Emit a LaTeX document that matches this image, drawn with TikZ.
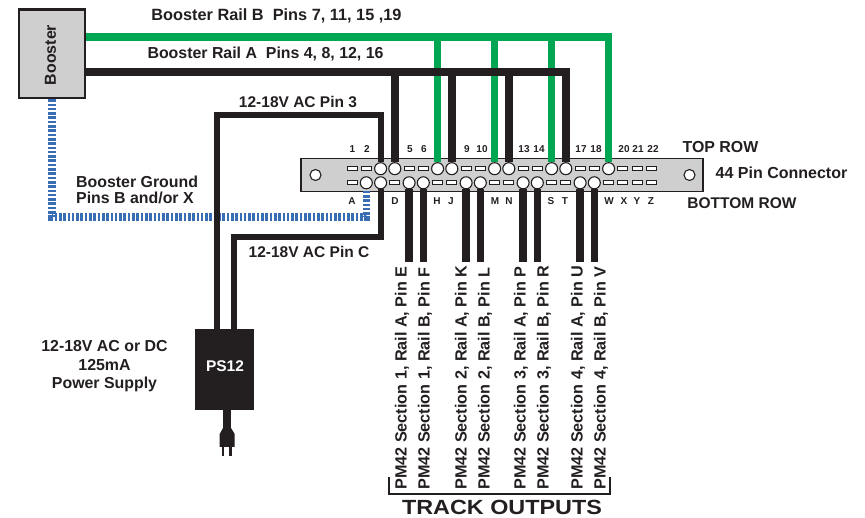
\documentclass[tikz,border=0pt]{standalone}
\usepackage{fontspec}
\setmainfont{Liberation Sans}
\newfontfamily\trackfont[FakeStretch=1.14]{Liberation Sans}
\usepackage{tikz}
\usetikzlibrary{positioning,calc}
\definecolor{railgreen}{RGB}{0,166,81}
\definecolor{wireblack}{RGB}{35,31,32}
\definecolor{groundblue}{RGB}{58,110,180}
\definecolor{panelgray}{RGB}{207,207,207}
\tikzset{
	lbl/.style={font=\bfseries\fontsize{15.9}{16}\selectfont,text=wireblack,inner sep=0pt,align=center},
	outlbl/.style={lbl,font=\bfseries\fontsize{16.2}{16}\selectfont,rotate=90,anchor=west},
	pinno/.style={font=\bfseries\fontsize{10}{12}\selectfont,text=wireblack,inner sep=0pt},
	slot/.style={draw=wireblack,fill=white,line width=0.9pt,minimum width=10pt,minimum height=3.8pt,inner sep=0pt},
	hole/.style={circle,draw=wireblack,fill=white,line width=1.1pt,minimum size=12pt,inner sep=0pt},
	railwire/.style={line width=7.5pt,color=wireblack},
	acwire/.style={line width=6pt,color=wireblack},
	greenwire/.style={line width=7.5pt,color=railgreen},
	groundwire/.style={line width=7.5pt,color=groundblue,dash pattern=on 2.6pt off 1.7pt}
}
\begin{document}
\begin{tikzpicture}[x=1pt,y=-1pt]
		\useasboundingbox (0,0) rectangle (865,518);

		\coordinate (railB) at (609,37);
		\coordinate (railA) at (566,72);
		\coordinate (acthree) at (217,115);
		\coordinate (acc) at (234,237);
		\coordinate (ground) at (52,217);
		\coordinate (wireend) at (409,262);

		\node[draw=wireblack,fill=panelgray,line width=2.4pt,minimum width=66pt,minimum height=88.5pt,inner sep=0pt] (booster) at (51.8,53.8) {};
		\node[lbl,rotate=90] (boosterlbl) at (50.5,55) {Booster};
		\node[draw=wireblack,fill=panelgray,line width=1.2pt,minimum width=402pt,minimum height=33pt,inner sep=0pt] (conn) at (502,175) {};
		\node[hole,minimum size=11pt] (holeL) at (315.5,175) {};
		\node[hole,minimum size=11pt] (holeR) at (689.5,175) {};
		\node[fill=wireblack,minimum width=59pt,minimum height=81pt,inner sep=0pt] (ps) at (224.5,369.5) {};
		\node[lbl,text=white,font=\bfseries\fontsize{15.5}{16}\selectfont] (pslbl) at (225,366) {PS12};

		% top row
		\node[slot] (t1) at (352,168.7) {};
		\node[slot] (t2) at (366.3,168.7) {};
		\node[hole] (t3) at (380.6,168.7) {};
		\node[hole] (t4) at (394.8,168.7) {};
		\node[slot] (t5) at (409.1,168.7) {};
		\node[slot] (t6) at (423.3,168.7) {};
		\node[hole] (t7) at (437.6,168.7) {};
		\node[hole] (t8) at (451.8,168.7) {};
		\node[slot] (t9) at (466.1,168.7) {};
		\node[slot] (t10) at (480.3,168.7) {};
		\node[hole] (t11) at (494.6,168.7) {};
		\node[hole] (t12) at (508.8,168.7) {};
		\node[slot] (t13) at (523.1,168.7) {};
		\node[slot] (t14) at (537.3,168.7) {};
		\node[hole] (t15) at (551.6,168.7) {};
		\node[hole] (t16) at (565.8,168.7) {};
		\node[slot] (t17) at (580.1,168.7) {};
		\node[slot] (t18) at (594.3,168.7) {};
		\node[hole] (t19) at (608.6,168.7) {};
		\node[slot] (t20) at (622.8,168.7) {};
		\node[slot] (t21) at (637.1,168.7) {};
		\node[slot] (t22) at (651.3,168.7) {};

		% bottom row
		\node[slot] (b1) at (352,182.8) {};
		\node[hole] (b2) at (366.3,182.8) {};
		\node[hole] (b3) at (380.6,182.8) {};
		\node[slot] (b4) at (394.8,182.8) {};
		\node[hole] (b5) at (409.1,182.8) {};
		\node[hole] (b6) at (423.3,182.8) {};
		\node[slot] (b7) at (437.6,182.8) {};
		\node[slot] (b8) at (451.8,182.8) {};
		\node[hole] (b9) at (466.1,182.8) {};
		\node[hole] (b10) at (480.3,182.8) {};
		\node[slot] (b11) at (494.6,182.8) {};
		\node[slot] (b12) at (508.8,182.8) {};
		\node[hole] (b13) at (523.1,182.8) {};
		\node[hole] (b14) at (537.3,182.8) {};
		\node[slot] (b15) at (551.6,182.8) {};
		\node[slot] (b16) at (565.8,182.8) {};
		\node[hole] (b17) at (580.1,182.8) {};
		\node[hole] (b18) at (594.3,182.8) {};
		\node[slot] (b19) at (608.6,182.8) {};
		\node[slot] (b20) at (622.8,182.8) {};
		\node[slot] (b21) at (637.1,182.8) {};
		\node[slot] (b22) at (651.3,182.8) {};

		% pin numbers
		\node[pinno] (n1) at (352.5,149.5) {1};
		\node[pinno] (n2) at (367,149.5) {2};
		\node[pinno] (n5) at (410,149.5) {5};
		\node[pinno] (n6) at (424,149.5) {6};
		\node[pinno] (n9) at (467,149.5) {9};
		\node[pinno] (n10) at (482,149.5) {10};
		\node[pinno] (n13) at (524,149.5) {13};
		\node[pinno] (n14) at (539,149.5) {14};
		\node[pinno] (n17) at (581,149.5) {17};
		\node[pinno] (n18) at (596,149.5) {18};
		\node[pinno] (n20) at (624,149.5) {20};
		\node[pinno] (n21) at (638,149.5) {21};
		\node[pinno] (n22) at (653,149.5) {22};
		\node[pinno] (lA) at (352,201) {A};
		\node[pinno] (lD) at (395,201) {D};
		\node[pinno] (lH) at (437,201) {H};
		\node[pinno] (lJ) at (451,201) {J};
		\node[pinno] (lM) at (495,201) {M};
		\node[pinno] (lN) at (509,201) {N};
		\node[pinno] (lS) at (551,201) {S};
		\node[pinno] (lT) at (565,201) {T};
		\node[pinno] (lW) at (609,201) {W};
		\node[pinno] (lX) at (624,201) {X};
		\node[pinno] (lY) at (637,201) {Y};
		\node[pinno] (lZ) at (651,201) {Z};

		% track output labels
		\node[outlbl] (s1a) at (402,490) {PM42 Section 1, Rail A, Pin E};
		\node[outlbl] (s1b) at (425,490) {PM42 Section 1, Rail B, Pin F};
		\node[outlbl] (s2a) at (462,490) {PM42 Section 2, Rail A, Pin K};
		\node[outlbl] (s2b) at (485,490) {PM42 Section 2, Rail B, Pin L};
		\node[outlbl] (s3a) at (521,490) {PM42 Section 3, Rail A, Pin P};
		\node[outlbl] (s3b) at (544,490) {PM42 Section 3, Rail B, Pin R};
		\node[outlbl] (s4a) at (578,490) {PM42 Section 4, Rail A, Pin U};
		\node[outlbl] (s4b) at (601,490) {PM42 Section 4, Rail B, Pin V};
		\node[lbl,font=\trackfont\bfseries\fontsize{20.5}{22}\selectfont] (tracklbl) at (502,507.5) {TRACK OUTPUTS};

		% other labels
		\node[lbl,font=\bfseries\fontsize{16.3}{16}\selectfont] (railBlbl) at (276.5,16) {Booster Rail B\ \ Pins 7, 11, 15 ,19};
		\node[lbl] (railAlbl) at (265.5,54) {Booster Rail A\ \ Pins 4, 8, 12, 16};
		\node[lbl,font=\bfseries\fontsize{15.5}{16}\selectfont] (ac3lbl) at (298,102) {12-18V AC Pin 3};
		\node[lbl,font=\bfseries\fontsize{15.5}{16}\selectfont] (acclbl) at (309,252) {12-18V AC Pin C};
		\node[lbl,align=left,anchor=west] (groundlbl) at (76,190) {Booster Ground\\Pins B and/or X};
		\node[lbl] (pwrlbl) at (104.5,366.5) {12-18V AC or DC\\[2.5pt]125mA\\[2.5pt]Power Supply};
		\node[lbl] (toplbl) at (720.5,147) {TOP ROW};
		\node[lbl,font=\bfseries\fontsize{16}{16}\selectfont] (conlbl) at (781.5,173) {44 Pin Connector};
		\node[lbl,font=\bfseries\fontsize{15.5}{16}\selectfont] (botlbl) at (742,203) {BOTTOM ROW};

		% booster ground
		\draw[groundwire] (booster.south -| ground) -- (ground) -- (ground -| b2) -- (b2);

		% power supply wires
		\draw[acwire] (ps.north -| acthree) -- (acthree) -- (acthree -| t3) -- (t3);
		\draw[acwire] (ps.north -| acc) -- (acc) -- (acc -| b3) -- (b3);

		% rails
		\draw[greenwire] (booster.east |- railB) -- (t19 |- railB) -- (t19);
		\draw[greenwire] (t7 |- railB) -- (t7);
		\draw[greenwire] (t11 |- railB) -- (t11);
		\draw[greenwire] (t15 |- railB) -- (t15);
		\draw[railwire] (booster.east |- railA) -- (t16 |- railA) -- (t16);
		\draw[railwire] (t4 |- railA) -- (t4);
		\draw[railwire] (t8 |- railA) -- (t8);
		\draw[railwire] (t12 |- railA) -- (t12);

		% track outputs
		\draw[railwire] (b5) -- (b5 |- wireend);
		\draw[railwire] (b6) -- (b6 |- wireend);
		\draw[railwire] (b9) -- (b9 |- wireend);
		\draw[railwire] (b10) -- (b10 |- wireend);
		\draw[railwire] (b13) -- (b13 |- wireend);
		\draw[railwire] (b14) -- (b14 |- wireend);
		\draw[railwire] (b17) -- (b17 |- wireend);
		\draw[railwire] (b18) -- (b18 |- wireend);

		% bracket
		\coordinate (brL) at (389,477);
		\coordinate (brR) at (610,477);
		\draw[wireblack,line width=2.2pt] (brL) -- ++(0,17) -| (brR);

		% plug
		\coordinate (plug) at (227,429);
		\draw[railwire,line width=8pt] (ps.south -| plug) -- (plug);
		\fill[wireblack] (219.7,447) -- (219.7,434) -- (223,428) -- (231,428) -- (234.7,434) -- (234.7,447) -- cycle;
		\fill[wireblack] (221.7,447) rectangle (224.3,456);
		\fill[wireblack] (229,447) rectangle (231.7,456);

		\end{tikzpicture}
\end{document}
